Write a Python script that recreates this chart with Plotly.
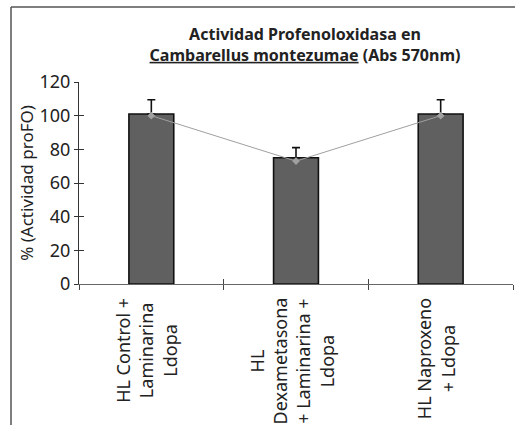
import plotly.graph_objects as go

categories = ["HL Control +<br>Laminarina<br>Ldopa",
              "HL<br>Dexametasona<br>+ Laminarina +<br>Ldopa",
              "HL Naproxeno<br>+ Ldopa"]
cat_keys = ["c1", "c2", "c3"]
bar_values = [101, 75, 101]
error_plus = [8.5, 6, 8.5]
line_values = [100, 73, 100]
y_ticks = [0, 20, 40, 60, 80, 100, 120]

FONT = "Noto Sans"
L, R, T, B = 79, 2, 82, 141
W, H = 515, 425
PW, PH = W - L - R, H - T - B

def px_x(px):
    return (px - L) / PW

def px_y(py):
    return (H - B - py) / PH

fig = go.Figure()
fig.add_trace(go.Bar(
    x=cat_keys, y=bar_values, width=0.31,
    marker=dict(color="#606060", line=dict(color="#111111", width=1.6)),
    error_y=dict(type="data", symmetric=False, array=error_plus,
                 arrayminus=[0]*3, color="#111111", thickness=1.6, width=4),
    showlegend=False))
fig.add_trace(go.Scatter(
    x=cat_keys, y=line_values, mode="lines+markers",
    line=dict(color="#a0a0a0", width=1),
    marker=dict(symbol="diamond", size=6, color="#a0a0a0"),
    showlegend=False))
fig.add_trace(go.Scatter(x=[None], y=[None], xaxis="x2", yaxis="y2",
                         showlegend=False, hoverinfo="skip"))

fig.update_layout(
    width=W, height=H,
    margin=dict(l=L, r=R, t=T, b=B),
    paper_bgcolor="white", plot_bgcolor="white",
    font=dict(family=FONT, size=18, color="#222222"),
    title=dict(text="<b>Actividad Profenoloxidasa en<br><u>Cambarellus montezumae</u> (Abs 570nm)</b>",
               x=305 / W, xanchor="center", y=1 - 40 / H, yanchor="top",
               font=dict(family=FONT, size=16, color="#222222")),
    xaxis=dict(type="category", categoryarray=cat_keys, range=[-0.5, 2.5],
               showticklabels=False, ticks="outside", ticklen=5, tickson="boundaries",
               tickcolor="#444", tickwidth=1, showline=True, linecolor="#666",
               linewidth=1, showgrid=False, zeroline=False, automargin=False),
    xaxis2=dict(overlaying="x", range=[-0.5, 2.5], tickvals=[-0.5, 0.5, 1.5, 2.5],
                showticklabels=False, ticks="inside", ticklen=5, tickcolor="#444",
                showline=False, showgrid=False, zeroline=False, side="bottom",
                automargin=False),
    yaxis=dict(range=[0, 120], tickvals=y_ticks, ticks="outside", ticklen=4,
               tickcolor="#333", showline=True, linecolor="#333", linewidth=1,
               showgrid=False, zeroline=False, automargin=False,
               tickfont=dict(size=18),
               title=dict(text="% (Actividad proFO)", standoff=1,
                          font=dict(family=FONT, size=17))),
    yaxis2=dict(overlaying="y", range=[0, 120], tickvals=y_ticks, ticks="inside",
                ticklen=5, tickcolor="#333", showticklabels=False, showline=False,
                showgrid=False, zeroline=False, automargin=False),
)

for k, lab in zip(cat_keys, categories):
    fig.add_annotation(x=k, y=0, xref="x", yref="paper", text=lab,
                       textangle=-90, showarrow=False, align="center",
                       xanchor="center", yanchor="top", yshift=-12, xshift=-5,
                       font=dict(family=FONT, size=18, color="#222222"))

# outer frame (left and top borders)
fig.add_shape(type="line", xref="paper", yref="paper",
              x0=px_x(11), x1=px_x(11), y0=px_y(7), y1=px_y(426),
              line=dict(color="#555555", width=1.5))
fig.add_shape(type="line", xref="paper", yref="paper",
              x0=px_x(11), x1=px_x(516), y0=px_y(7), y1=px_y(7),
              line=dict(color="#555555", width=1.5))

fig.write_html("out.html", config={"displayModeBar": False},
               post_script="document.body.style.margin='0';document.body.style.padding='0';")
